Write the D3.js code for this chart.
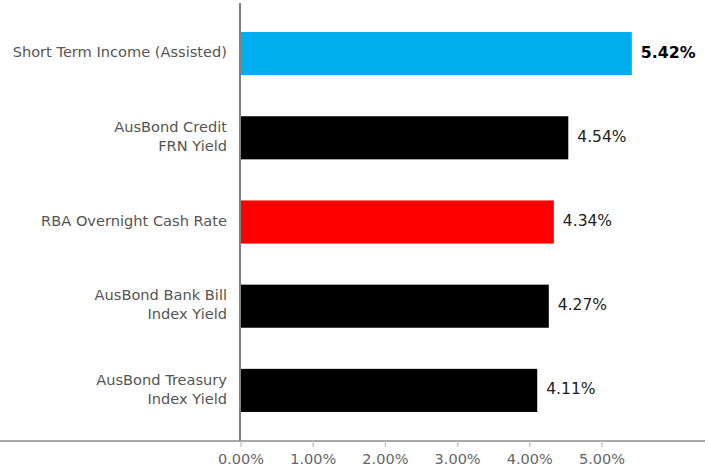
<!DOCTYPE html>
<html>
<head>
<meta charset="utf-8">
<script src="https://cdn.jsdelivr.net/npm/d3@7"></script>
<style>
  html, body { margin: 0; padding: 0; background: #fff; }
  svg { display: block; }
  text { font-family: "DejaVu Sans", Verdana, sans-serif; }
</style>
</head>
<body>
<svg id="chart" width="710" height="468"></svg>
<script>
const categories = [
  ["Short Term Income (Assisted)"],
  ["AusBond Credit", "FRN Yield"],
  ["RBA Overnight Cash Rate"],
  ["AusBond Bank Bill", "Index Yield"],
  ["AusBond Treasury", "Index Yield"]
];
const values = [5.42, 4.54, 4.34, 4.27, 4.11];
const barColors = ["#00AEEF", "#000000", "#FF0000", "#000000", "#000000"];
const highlight = [true, false, false, false, false];
const tickValues = [0, 1, 2, 3, 4, 5];

const svg = d3.select("#chart");
const keys = categories.map(c => c.join(" "));

const x = d3.scaleLinear().domain([0, 5]).range([240.5, 601.5]);
const y = d3.scaleBand().domain(keys).range([11.5, 432.5]).paddingInner(0.488).paddingOuter(0.244);

// bars
svg.append("g").selectAll("rect").data(values).join("rect")
  .attr("x", x(0))
  .attr("y", (d, i) => y(keys[i]))
  .attr("width", d => x(d) - x(0))
  .attr("height", y.bandwidth())
  .attr("fill", (d, i) => barColors[i]);

// value labels
svg.append("g").selectAll("text").data(values).join("text")
  .attr("x", d => x(d) + 9)
  .attr("y", (d, i) => y(keys[i]) + y.bandwidth() / 2 - 1.5)
  .attr("dy", "0.36em")
  .attr("fill", (d, i) => highlight[i] ? "#000" : "#222")
  .attr("font-weight", (d, i) => highlight[i] ? "bold" : "normal")
  .attr("font-size", (d, i) => highlight[i] ? "15.8px" : "15.5px")
  .text(d => d.toFixed(2) + "%");

// category labels
const lh = 19;
const cat = svg.append("g").selectAll("text").data(categories).join("text")
  .attr("x", 227)
  .attr("text-anchor", "end")
  .attr("fill", "#555")
  .attr("font-size", "14.6px")
  .attr("y", (d, i) => y(keys[i]) + y.bandwidth() / 2 - 1.5 - (d.length - 1) * lh / 2);
cat.each(function(d) {
  const t = d3.select(this);
  d.forEach((line, j) => {
    t.append("tspan").attr("x", 227).attr("dy", j === 0 ? "0.36em" : lh).text(line);
  });
});

// x axis baseline
svg.append("line")
  .attr("x1", 0).attr("x2", 705).attr("y1", 441).attr("y2", 441)
  .attr("stroke", "#8a8a8a").attr("stroke-width", 1.5);

// x axis ticks and labels
const xAxis = d3.axisBottom(x).tickValues(tickValues).tickSize(6).tickPadding(7)
  .tickFormat(d => d.toFixed(2) + "%");
const gx = svg.append("g").attr("transform", "translate(0,441)").call(xAxis);
gx.select(".domain").remove();
gx.selectAll(".tick line").attr("stroke", "#c8c8c8").attr("stroke-width", 1.5);
gx.selectAll(".tick text")
  .attr("fill", "#666")
  .attr("font-size", "14.5px")
  .attr("font-family", "DejaVu Sans, Verdana, sans-serif");

// y axis line
svg.append("line")
  .attr("x1", 240).attr("x2", 240).attr("y1", 3).attr("y2", 441)
  .attr("stroke", "#808080").attr("stroke-width", 2);
</script>
</body>
</html>
